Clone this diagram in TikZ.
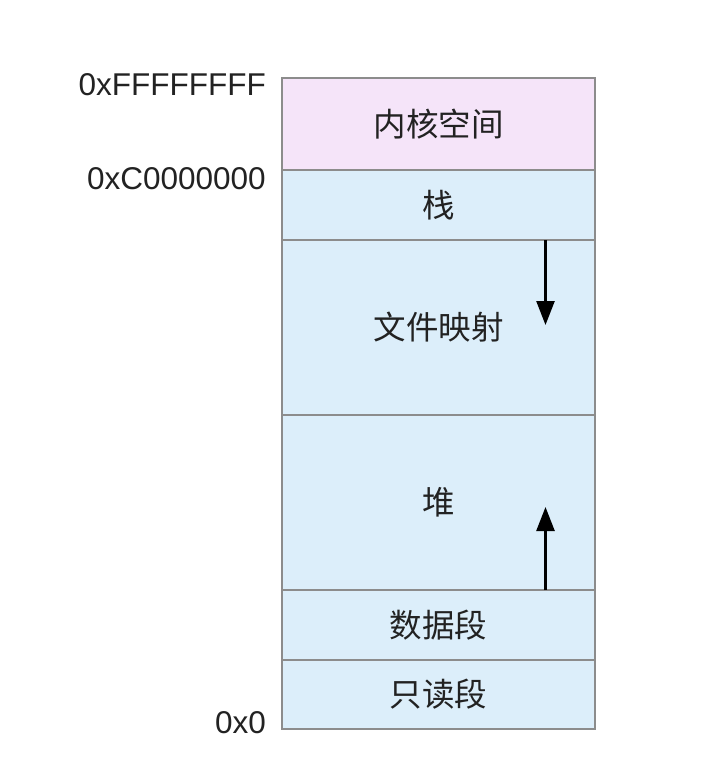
\documentclass[tikz,border=0pt]{standalone}
\usepackage{fontspec}
\setmainfont{Liberation Sans}
\newfontfamily\cjk{Noto Sans CJK SC}
\usetikzlibrary{arrows.meta,calc}
\definecolor{segblue}{HTML}{DCEEFA}
\definecolor{segpink}{HTML}{F5E4F9}
\definecolor{segline}{HTML}{8C8C8C}
\definecolor{txt}{HTML}{222222}
\tikzset{
  seg/.style={draw=segline, line width=2pt, fill=segblue, minimum width=313pt, inner sep=0pt, outer sep=0pt, text=txt, font=\cjk\fontsize{32.5}{34}\selectfont},
  addr/.style={anchor=east, inner sep=0pt, text=txt, font=\fontsize{31.5}{34}\selectfont},
  growarrow/.style={line width=2.5pt, -{Triangle[width=18pt,length=24pt]}, black}
}
\begin{document}
\begin{tikzpicture}[x=1pt,y=-1pt]
\useasboundingbox (0,0) rectangle (708,782);
\node[seg, fill=segpink, minimum height=92pt] (kernel) at (438.5,124) {内核空间};
\node[seg, minimum height=70pt] (stack) at (438.5,205) {栈};
\node[seg, minimum height=175pt] (mmap) at (438.5,327.5) {文件映射};
\node[seg, minimum height=175pt] (heap) at (438.5,502.5) {堆};
\node[seg, minimum height=70pt] (data) at (438.5,625) {数据段};
\node[seg, minimum height=69pt] (rodata) at (438.5,694.5) {只读段};
\node[addr] (ftop) at (266,85) {0xFFFFFFFF};
\node[addr] (ctop) at (266,179) {0xC0000000};
\node[addr] (zero) at (266,723) {0x0};
\coordinate (downstart) at ($(mmap.north)+(107,0)$);
\coordinate (downend) at ($(mmap.north)+(107,85)$);
\coordinate (upstart) at ($(heap.south)+(107,0)$);
\coordinate (upend) at ($(heap.south)+(107,-83)$);
\draw[growarrow] (downstart) -- (downend);
\draw[growarrow] (upstart) -- (upend);
\end{tikzpicture}
\end{document}
